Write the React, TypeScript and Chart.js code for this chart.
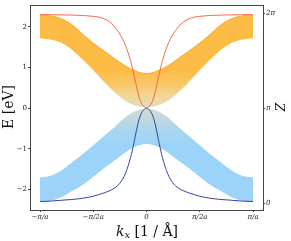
import React, { useEffect, useRef } from "react";
import { Chart, registerables } from "chart.js";

Chart.register(...registerables);

// k_x in units of π/a
const K_BAND = [-1, -0.9, -0.8, -0.7, -0.6, -0.5, -0.4, -0.3, -0.2, -0.1, 0, 0.1, 0.2, 0.3, 0.4, 0.5, 0.6, 0.7, 0.8, 0.9, 1];
// band envelopes in eV
const UPPER_TOP = [2.3, 2.27, 2.2, 2.05, 1.82, 1.6, 1.41, 1.22, 1.04, 0.91, 0.85, 0.91, 1.04, 1.22, 1.41, 1.6, 1.82, 2.05, 2.2, 2.27, 2.3];
const UPPER_BOTTOM = [1.73, 1.7, 1.62, 1.45, 1.21, 0.95, 0.66, 0.4, 0.19, 0.07, 0.03, 0.07, 0.19, 0.4, 0.66, 0.95, 1.21, 1.45, 1.62, 1.7, 1.73];
const LOWER_TOP = [-1.72, -1.68, -1.55, -1.35, -1.15, -0.93, -0.7, -0.48, -0.24, -0.08, -0.03, -0.08, -0.24, -0.48, -0.7, -0.93, -1.15, -1.35, -1.55, -1.68, -1.72];
const LOWER_BOTTOM = [-2.3, -2.27, -2.18, -2.03, -1.88, -1.68, -1.47, -1.28, -1.08, -0.93, -0.87, -0.93, -1.08, -1.28, -1.47, -1.68, -1.88, -2.03, -2.18, -2.27, -2.3];

// Zak phase curves, in units of π (right axis)
const K_LINE = [-1, -0.9, -0.8, -0.7, -0.6, -0.5, -0.45, -0.4, -0.35, -0.3, -0.25, -0.2, -0.15, -0.12, -0.1, -0.08, -0.06, -0.04, -0.02, 0,
  0.02, 0.04, 0.06, 0.08, 0.1, 0.12, 0.15, 0.2, 0.25, 0.3, 0.35, 0.4, 0.45, 0.5, 0.6, 0.7, 0.8, 0.9, 1];
const Z_RED = [1.983, 1.983, 1.981, 1.979, 1.975, 1.966, 1.958, 1.94, 1.911, 1.855, 1.778, 1.667, 1.5, 1.363, 1.257, 1.162, 1.085, 1.038, 1.013, 1.005,
  1.013, 1.038, 1.085, 1.162, 1.257, 1.363, 1.5, 1.667, 1.778, 1.855, 1.911, 1.94, 1.958, 1.966, 1.975, 1.979, 1.981, 1.983, 1.983];
const Z_BLUE = [0.017, 0.021, 0.03, 0.038, 0.051, 0.072, 0.089, 0.107, 0.128, 0.158, 0.209, 0.307, 0.478, 0.624, 0.735, 0.838, 0.915, 0.962, 0.987, 0.997,
  0.987, 0.962, 0.915, 0.838, 0.735, 0.624, 0.478, 0.307, 0.209, 0.158, 0.128, 0.107, 0.089, 0.072, 0.051, 0.038, 0.03, 0.021, 0.017];

const X_TICKS = [-1, -0.5, 0, 0.5, 1];
const X_TICK_LABELS = ["−π/a", "−π/2a", "0", "π/2a", "π/a"];
const Y_TICKS = [-2, -1, 0, 1, 2];
const Z_TICKS = [0, 1, 2];
const Z_TICK_LABELS = ["0", "π", "2π"];

const SERIF = '"DejaVu Serif", serif';
const AXIS_COLOR = "#444";

function pts(ks: number[], vs: number[]) {
  return ks.map((k, i) => ({ x: k * Math.PI, y: vs[i] }));
}

function upperGradient(c: any) {
  const chart = c.chart;
  if (!chart.chartArea) return "rgba(0,0,0,0)";
  const ys = chart.scales.y;
  const g = chart.ctx.createLinearGradient(0, ys.getPixelForValue(0), 0, ys.getPixelForValue(0.95));
  g.addColorStop(0, "rgb(226,222,192)");
  g.addColorStop(0.3, "rgb(240,215,152)");
  g.addColorStop(0.65, "rgb(250,198,100)");
  g.addColorStop(1, "rgb(252,187,68)");
  return g;
}

function lowerGradient(c: any) {
  const chart = c.chart;
  if (!chart.chartArea) return "rgba(0,0,0,0)";
  const ys = chart.scales.y;
  const g = chart.ctx.createLinearGradient(0, ys.getPixelForValue(0), 0, ys.getPixelForValue(-0.95));
  g.addColorStop(0, "rgb(212,220,204)");
  g.addColorStop(0.3, "rgb(190,216,224)");
  g.addColorStop(0.65, "rgb(166,213,242)");
  g.addColorStop(1, "rgb(156,211,248)");
  return g;
}

const framePlugin = {
  id: "frame",
  afterDraw(chart: any) {
    const { ctx, chartArea: a } = chart;
    ctx.save();
    ctx.strokeStyle = AXIS_COLOR;
    ctx.lineWidth = 1;
    ctx.strokeRect(Math.round(a.left) + 0.5, Math.round(a.top) + 0.5, Math.round(a.right - a.left), Math.round(a.bottom - a.top));
    ctx.fillStyle = "#111";
    // y label
    ctx.font = `14px ${SERIF}`;
    ctx.textAlign = "center";
    ctx.textBaseline = "middle";
    ctx.save();
    ctx.translate(9, 107);
    ctx.rotate(-Math.PI / 2);
    ctx.fillText("E [eV]", 0, 0);
    ctx.restore();
    // right label
    ctx.save();
    ctx.font = `italic 12px ${SERIF}`;
    ctx.translate(282, 107);
    ctx.rotate(-Math.PI / 2);
    ctx.fillText("Z", 0, 0);
    ctx.restore();
    // x label
    const f1 = `italic 14px ${SERIF}`;
    const f2 = `italic 10px ${SERIF}`;
    const f3 = `14px ${SERIF}`;
    const t1 = "k", t2 = "x", t3 = " [1 / Å]";
    ctx.font = f1; const w1 = ctx.measureText(t1).width;
    ctx.font = f2; const w2 = ctx.measureText(t2).width;
    ctx.font = f3; const w3 = ctx.measureText(t3).width;
    let x = 147 - (w1 + w2 + w3) / 2;
    const y = 232;
    ctx.textAlign = "left";
    ctx.textBaseline = "middle";
    ctx.font = f1; ctx.fillText(t1, x, y); x += w1;
    ctx.font = f2; ctx.fillText(t2, x, y + 3); x += w2;
    ctx.font = f3; ctx.fillText(t3, x, y);
    ctx.restore();
  },
};

export default function App() {
  const ref = useRef<HTMLCanvasElement | null>(null);
  useEffect(() => {
    document.body.style.margin = "0";
    const canvas = ref.current!;
    const chart = new Chart(canvas, {
      type: "line",
      data: {
        datasets: [
          { data: pts(K_LINE, Z_RED), yAxisID: "y2", borderColor: "#f5694a", borderWidth: 1, pointRadius: 0, cubicInterpolationMode: "monotone", fill: false },
          { data: pts(K_LINE, Z_BLUE), yAxisID: "y2", borderColor: "#3343a8", borderWidth: 1, pointRadius: 0, cubicInterpolationMode: "monotone", fill: false },
          { data: pts(K_BAND, UPPER_TOP), yAxisID: "y", borderColor: "#f9a526", borderWidth: 1, pointRadius: 0, cubicInterpolationMode: "monotone", fill: "+1", backgroundColor: upperGradient },
          { data: pts(K_BAND, UPPER_BOTTOM), yAxisID: "y", borderColor: upperGradient, borderWidth: 1, pointRadius: 0, cubicInterpolationMode: "monotone", fill: false },
          { data: pts(K_BAND, LOWER_TOP), yAxisID: "y", borderColor: lowerGradient, borderWidth: 1, pointRadius: 0, cubicInterpolationMode: "monotone", fill: "+1", backgroundColor: lowerGradient },
          { data: pts(K_BAND, LOWER_BOTTOM), yAxisID: "y", borderColor: "#92cff6", borderWidth: 1, pointRadius: 0, cubicInterpolationMode: "monotone", fill: false },
        ],
      } as any,
      options: {
        animation: false,
        responsive: false,
        devicePixelRatio: 1,
        layout: { padding: { top: 2, left: 0, right: 0, bottom: 0 } },
        plugins: { legend: { display: false }, tooltip: { enabled: false } },
        scales: {
          x: {
            type: "linear",
            min: -Math.PI * (1 + 10 / 106.5),
            max: Math.PI * (1 + 10 / 106.5),
            afterBuildTicks: (s: any) => { s.ticks = X_TICKS.map((v) => ({ value: v * Math.PI })); },
            afterFit: (s: any) => { s.height = 31; },
            ticks: { callback: (_v: any, i: number) => X_TICK_LABELS[i], font: { family: SERIF, size: 7, style: "italic" }, color: "#222", padding: 1, maxRotation: 0, autoSkip: false },
            grid: { drawOnChartArea: false, drawTicks: true, tickLength: 2, color: AXIS_COLOR },
            border: { display: false },
          },
          y: {
            type: "linear",
            position: "left",
            min: -103.5 / 41.25,
            max: 104.5 / 41.25,
            afterBuildTicks: (s: any) => { s.ticks = Y_TICKS.map((v) => ({ value: v })); },
            afterFit: (s: any) => { s.width = 30; },
            ticks: { callback: (v: any) => (v < 0 ? "−" + Math.abs(v) : String(v)), font: { family: SERIF, size: 7 }, color: "#222", padding: 1, autoSkip: false },
            grid: { drawOnChartArea: false, drawTicks: true, tickLength: 2, color: AXIS_COLOR },
            border: { display: false },
          },
          y2: {
            type: "linear",
            position: "right",
            min: -7 / 96.5,
            max: 2 + 8 / 96.5,
            afterBuildTicks: (s: any) => { s.ticks = Z_TICKS.map((v) => ({ value: v })); },
            afterFit: (s: any) => { s.width = 28; },
            ticks: { callback: (_v: any, i: number) => Z_TICK_LABELS[i], font: { family: SERIF, size: 7, style: "italic" }, color: "#222", padding: 1, autoSkip: false },
            grid: { drawOnChartArea: false, drawTicks: true, tickLength: 2, color: AXIS_COLOR },
            border: { display: false },
          },
        },
      } as any,
      plugins: [framePlugin],
    });
    return () => chart.destroy();
  }, []);
  return (
    <div style={{ position: "absolute", left: 0, top: 0, width: 291, height: 241 }}>
      <canvas ref={ref} width={291} height={241} style={{ width: 291, height: 241 }} />
    </div>
  );
}
